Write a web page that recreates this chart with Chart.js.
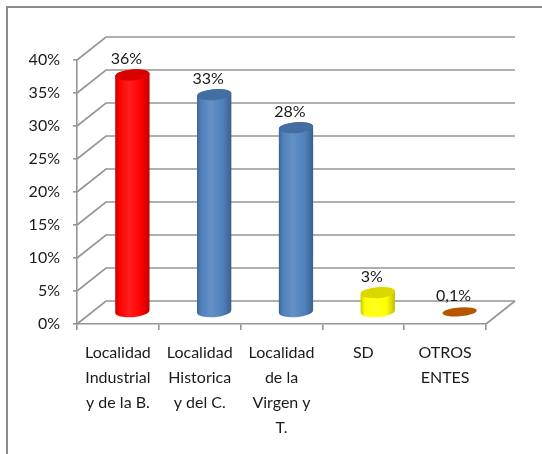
<!DOCTYPE html>
<html>
<head>
<meta charset="utf-8">
<script src="https://cdn.jsdelivr.net/npm/chart.js@4/dist/chart.umd.min.js"></script>
<style>
  html, body { margin: 0; padding: 0; background: #fff; }
  #wrap { position: relative; width: 542px; height: 454px; overflow: hidden; background: #fff; }
  #frame { position: absolute; left: 6px; top: 6px; width: 700px; height: 700px; border: 2px solid #8c8c8c; box-sizing: border-box; pointer-events: none; }
  canvas { position: absolute; left: 0; top: 0; }
</style>
</head>
<body>
<div id="wrap">
  <div id="frame"></div>
  <canvas id="c" width="542" height="454"></canvas>
</div>
<script>
// ---- data ----
const categories = [
  ['Localidad', 'Industrial', 'y de la B.'],
  ['Localidad', 'Historica', 'y del C.'],
  ['Localidad', 'de la', 'Virgen y', 'T.'],
  'SD',
  ['OTROS', 'ENTES']
];
const values = [0.36, 0.33, 0.28, 0.03, 0.001];
const barColors = ['#FF0000', '#4F81BD', '#4F81BD', '#FFFF00', '#B85500'];
const yTickMax = 0.4;
const yTickStep = 0.05;

// ---- styles ----
const FONT = 'Lato, "Open Sans", sans-serif';
const GRID = '#959595';
const TEXT = '#1a1a1a';
const DX = 29, DY = -23;

function pct(v) {
  return String(+(v * 100).toFixed(1)).replace('.', ',') + '%';
}
function shade(hex, f) {
  const n = parseInt(hex.slice(1), 16);
  let r = (n >> 16) & 255, g = (n >> 8) & 255, b = n & 255;
  if (f < 0) { r *= 1 + f; g *= 1 + f; b *= 1 + f; }
  else { r += (255 - r) * f; g += (255 - g) * f; b += (255 - b) * f; }
  return `rgb(${Math.round(r)},${Math.round(g)},${Math.round(b)})`;
}

const walls = {
  id: 'walls',
  beforeDatasetsDraw(chart) {
    const { ctx, chartArea: a, scales: { x, y } } = chart;
    ctx.save();
    ctx.strokeStyle = GRID;
    ctx.lineWidth = 1.6;
    y.ticks.forEach(t => {
      const py = y.getPixelForValue(t.value);
      ctx.beginPath();
      ctx.moveTo(a.left, py);
      ctx.lineTo(a.left + DX, py + DY);
      ctx.lineTo(a.right + DX, py + DY);
      ctx.stroke();
    });
    const p0 = y.getPixelForValue(0);
    ctx.beginPath();
    ctx.moveTo(a.right, p0);
    ctx.lineTo(a.right + DX, p0 + DY);
    ctx.stroke();
    ctx.restore();
  },
  afterDatasetsDraw(chart) {
    const { ctx } = chart;
    const meta = chart.getDatasetMeta(0);
    const ry = 5.5, rot = -0.08;
    meta.data.forEach((bar, i) => {
      const col = barColors[i];
      const cx = bar.x + DX / 2;
      const rx = bar.width / 2;
      const yTop = bar.y + DY / 2;
      const yBot = bar.base + DY / 2;
      ctx.save();
      if (yBot - yTop > 2) {
        const g = ctx.createLinearGradient(cx - rx, 0, cx + rx, 0);
        g.addColorStop(0, shade(col, -0.22));
        g.addColorStop(0.12, col);
        g.addColorStop(0.4, shade(col, 0.12));
        g.addColorStop(0.75, col);
        g.addColorStop(1, shade(col, -0.25));
        ctx.beginPath();
        ctx.moveTo(cx - rx, yTop);
        ctx.lineTo(cx - rx, yBot);
        ctx.ellipse(cx, yBot, rx, ry, rot, Math.PI, 0, true);
        ctx.lineTo(cx + rx, yTop);
        ctx.ellipse(cx, yTop, rx, ry, rot, 0, Math.PI, true);
        ctx.closePath();
        ctx.fillStyle = g;
        ctx.fill();
        ctx.beginPath();
        ctx.ellipse(cx, yTop, rx, ry, rot, 0, Math.PI * 2);
        ctx.fillStyle = shade(col, -0.15);
        ctx.fill();
      } else {
        ctx.beginPath();
        ctx.ellipse(cx, yTop, rx, ry * 0.8, rot, 0, Math.PI * 2);
        ctx.fillStyle = col;
        ctx.fill();
      }
      ctx.fillStyle = TEXT;
      ctx.font = '16px ' + FONT;
      ctx.textAlign = 'center';
      ctx.textBaseline = 'middle';
      ctx.fillText(pct(values[i]), cx - 6, yTop - 16);
      ctx.restore();
    });
  }
};

new Chart(document.getElementById('c'), {
  type: 'bar',
  data: {
    labels: categories,
    datasets: [{
      data: values,
      backgroundColor: 'rgba(0,0,0,0)',
      borderWidth: 0,
      barPercentage: 0.42,
      categoryPercentage: 1
    }]
  },
  options: {
    responsive: false,
    animation: false,
    devicePixelRatio: 1,
    layout: { padding: { left: 0, top: 60, right: 56, bottom: 0 } },
    plugins: { legend: { display: false }, tooltip: { enabled: false } },
    scales: {
      x: {
        offset: true,
        grid: { display: true, drawOnChartArea: false, offset: true, tickLength: 6, color: GRID, lineWidth: 1.6 },
        border: { display: true, color: GRID, width: 1.6 },
        ticks: { font: { family: FONT, size: 16, lineHeight: '25px' }, color: TEXT, padding: 10, maxRotation: 0, autoSkip: false },
        afterFit(s) { s.height = 130; }
      },
      y: {
        min: 0, max: yTickMax,
        grid: { display: true, drawOnChartArea: false, tickLength: 4, color: GRID, lineWidth: 1.6 },
        border: { display: true, color: GRID, width: 1.6 },
        ticks: { stepSize: yTickStep, font: { family: FONT, size: 16 }, color: TEXT, padding: 13,
          callback: v => Math.round(v * 100) + '%' },
        afterFit(s) { s.width = 77; }
      }
    }
  },
  plugins: [walls]
});
</script>
</body>
</html>
